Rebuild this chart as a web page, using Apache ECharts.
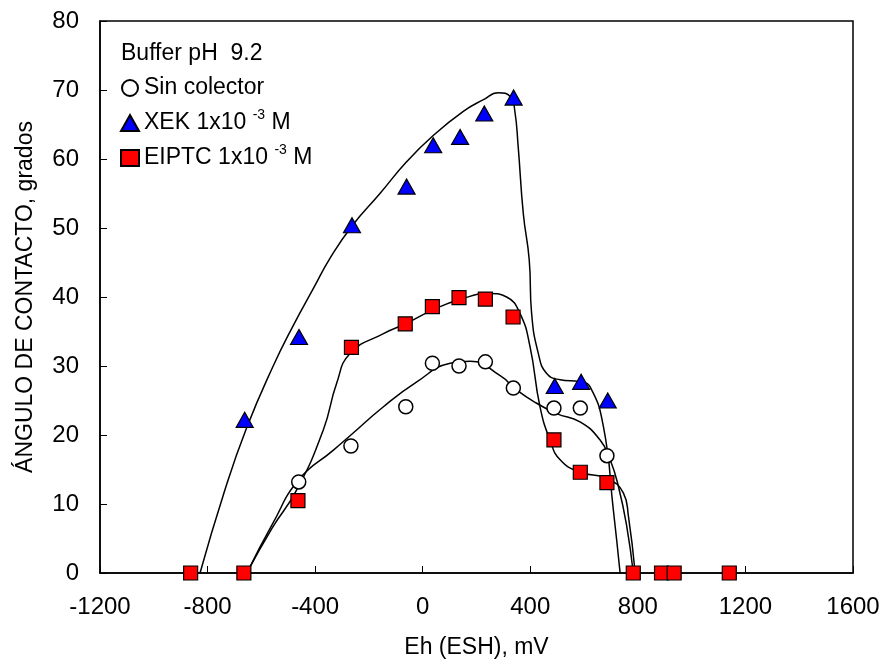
<!DOCTYPE html>
<html>
<head>
<meta charset="utf-8">
<script src="https://cdn.jsdelivr.net/npm/echarts@6/dist/echarts.min.js"></script>
<style>
html,body{margin:0;padding:0;background:#fff;}
#chart{width:883px;height:664px;}
</style>
</head>
<body>
<div id="chart"></div>
<script>
// ---- Data ----
const xTicks = [-1200, -800, -400, 0, 400, 800, 1200, 1600];
const yTicks = [0, 10, 20, 30, 40, 50, 60, 70, 80];

const sinX = [-461, -267, -63, 36, 135, 233, 337, 488, 586, 685];
const sinY = [13.2, 18.4, 24.1, 30.4, 30.0, 30.6, 26.8, 23.9, 23.9, 17.0];

const xekX = [-662, -460, -263, -60, 39, 139, 229, 338, 491, 589, 688];
const xekY = [22.2, 34.2, 50.4, 56.0, 62.0, 63.2, 66.6, 68.9, 27.1, 27.7, 25.0];

const eiptcX = [-863, -665, -464, -265, -65, 36, 135, 233, 336, 488, 586, 685, 783, 888, 935, 1140];
const eiptcY = [0, 0, 10.5, 32.7, 36.1, 38.6, 39.9, 39.7, 37.1, 19.3, 14.6, 13.1, 0, 0, 0, 0];

// fitted curves
const xekCurveX = [-828, -740, -655, -556, -481, -407, -345, -263, -159, -60, 39, 151, 226, 281, 327, 342, 355, 374, 396, 405, 430, 461, 511, 585, 622, 672, 709, 734];
const xekCurveY = [0, 11.5, 21.0, 30.0, 35.9, 41.2, 45.6, 50.3, 55.0, 59.6, 63.4, 66.9, 68.6, 69.6, 69.0, 67.1, 61.8, 52.1, 45.4, 37.6, 31.8, 28.9, 28.0, 27.7, 27.0, 21.2, 9.1, 0];

const eiptcCurveX = [-654, -560, -469, -370, -320, -270, -146, -65, 36, 135, 250, 312, 362, 399, 436, 473, 511, 585, 684, 746, 765, 790];
const eiptcCurveY = [0, 6.5, 12.0, 20.7, 27.5, 31.8, 34.7, 36.1, 38.1, 39.6, 40.5, 40.0, 37.6, 32.8, 24.1, 19.3, 16.4, 14.6, 13.7, 11.6, 8.2, 0];

const sinCurveX = [-654, -560, -461, -332, -267, -146, -22, 102, 176, 288, 350, 424, 498, 585, 659, 697, 728, 759, 783];
const sinCurveY = [0, 7.0, 13.5, 17.8, 20.0, 24.1, 27.7, 30.4, 30.7, 28.6, 26.5, 24.6, 23.1, 21.9, 19.3, 16.4, 12.5, 6.7, 0];

const legendNames = ['Sin colector', 'XEK 1x10-3 M', 'EIPTC 1x10-3 M'];
const legendLabels = ['Sin colector', 'XEK 1x10 {sup|-3} M', 'EIPTC 1x10 {sup|-3} M'];
const annotation = 'Buffer pH  9.2';
const xTitle = 'Eh (ESH), mV';
const yTitle = 'ÁNGULO DE CONTACTO, grados';

function zip(xs, ys) { return xs.map((x, i) => [x, ys[i]]); }

const FONT = '"Liberation Sans", Arial, Helvetica, sans-serif';
const chart = echarts.init(document.getElementById('chart'), null, {renderer: 'canvas'});

function curve(xs, ys) {
  return {
    type: 'line', data: zip(xs, ys), smooth: 0.5,
    showSymbol: false, symbol: 'none', silent: true,
    lineStyle: {color: '#000', width: 1.5}, z: 2
  };
}

const option = {
  backgroundColor: '#fff',
  animation: false,
  grid: {left: 100, right: 30, top: 21, bottom: 91, show: true, borderColor: '#000', borderWidth: 1.5, backgroundColor: 'transparent'},
  xAxis: {
    type: 'value', min: xTicks[0], max: xTicks[xTicks.length - 1], interval: 400,
    name: xTitle, nameLocation: 'middle', nameGap: 63,
    nameTextStyle: {fontFamily: FONT, fontSize: 23, color: '#000'},
    axisLine: {show: true, onZero: false, lineStyle: {color: '#000', width: 1.5}},
    axisTick: {show: true, inside: true, length: 7, lineStyle: {color: '#000', width: 1}},
    axisLabel: {fontFamily: FONT, fontSize: 24, color: '#000', margin: 22, formatter: v => String(v)},
    splitLine: {show: false}
  },
  yAxis: {
    type: 'value', min: yTicks[0], max: yTicks[yTicks.length - 1], interval: 10,
    name: yTitle, nameLocation: 'middle', nameGap: 63, nameRotate: 90,
    nameTextStyle: {fontFamily: FONT, fontSize: 23, color: '#000'},
    axisLine: {show: true, onZero: false, lineStyle: {color: '#000', width: 1.5}},
    axisTick: {show: true, inside: true, length: 7, lineStyle: {color: '#000', width: 1}},
    axisLabel: {fontFamily: FONT, fontSize: 24, color: '#000', margin: 21, formatter: v => String(v)},
    splitLine: {show: false}
  },
  legend: {
    show: true, orient: 'vertical', left: 120, top: 73, padding: 0,
    itemWidth: 18, itemHeight: 16, itemGap: 5,
    data: legendNames,
    formatter: function (n) { return legendLabels[legendNames.indexOf(n)]; },
    textStyle: {
      fontFamily: FONT, fontSize: 23, color: '#000', lineHeight: 30,
      rich: {sup: {fontFamily: FONT, fontSize: 14, lineHeight: 14, verticalAlign: 'top', color: '#000'}}
    },
    selectedMode: false
  },
  graphic: [{
    type: 'text', left: 121, top: 42,
    style: {text: annotation, font: '23px ' + FONT, fill: '#000'}
  }],
  series: [
    curve(xekCurveX, xekCurveY),
    curve(eiptcCurveX, eiptcCurveY),
    curve(sinCurveX, sinCurveY),
    {
      name: legendNames[0], type: 'scatter', data: zip(sinX, sinY),
      symbol: 'circle', symbolSize: 14, z: 3,
      itemStyle: {color: '#fff', borderColor: '#000', borderWidth: 1.5, opacity: 1}
    },
    {
      name: legendNames[1], type: 'scatter', data: zip(xekX, xekY),
      symbol: 'triangle', symbolSize: [17, 15], z: 3,
      itemStyle: {color: '#0000ff', borderColor: '#000', borderWidth: 1.2, opacity: 1}
    },
    {
      name: legendNames[2], type: 'scatter', data: zip(eiptcX, eiptcY),
      symbol: 'rect', symbolSize: 14, z: 3,
      itemStyle: {color: '#ff0000', borderColor: '#000', borderWidth: 1.2, opacity: 1}
    }
  ]
};
chart.setOption(option);
</script>
</body>
</html>
